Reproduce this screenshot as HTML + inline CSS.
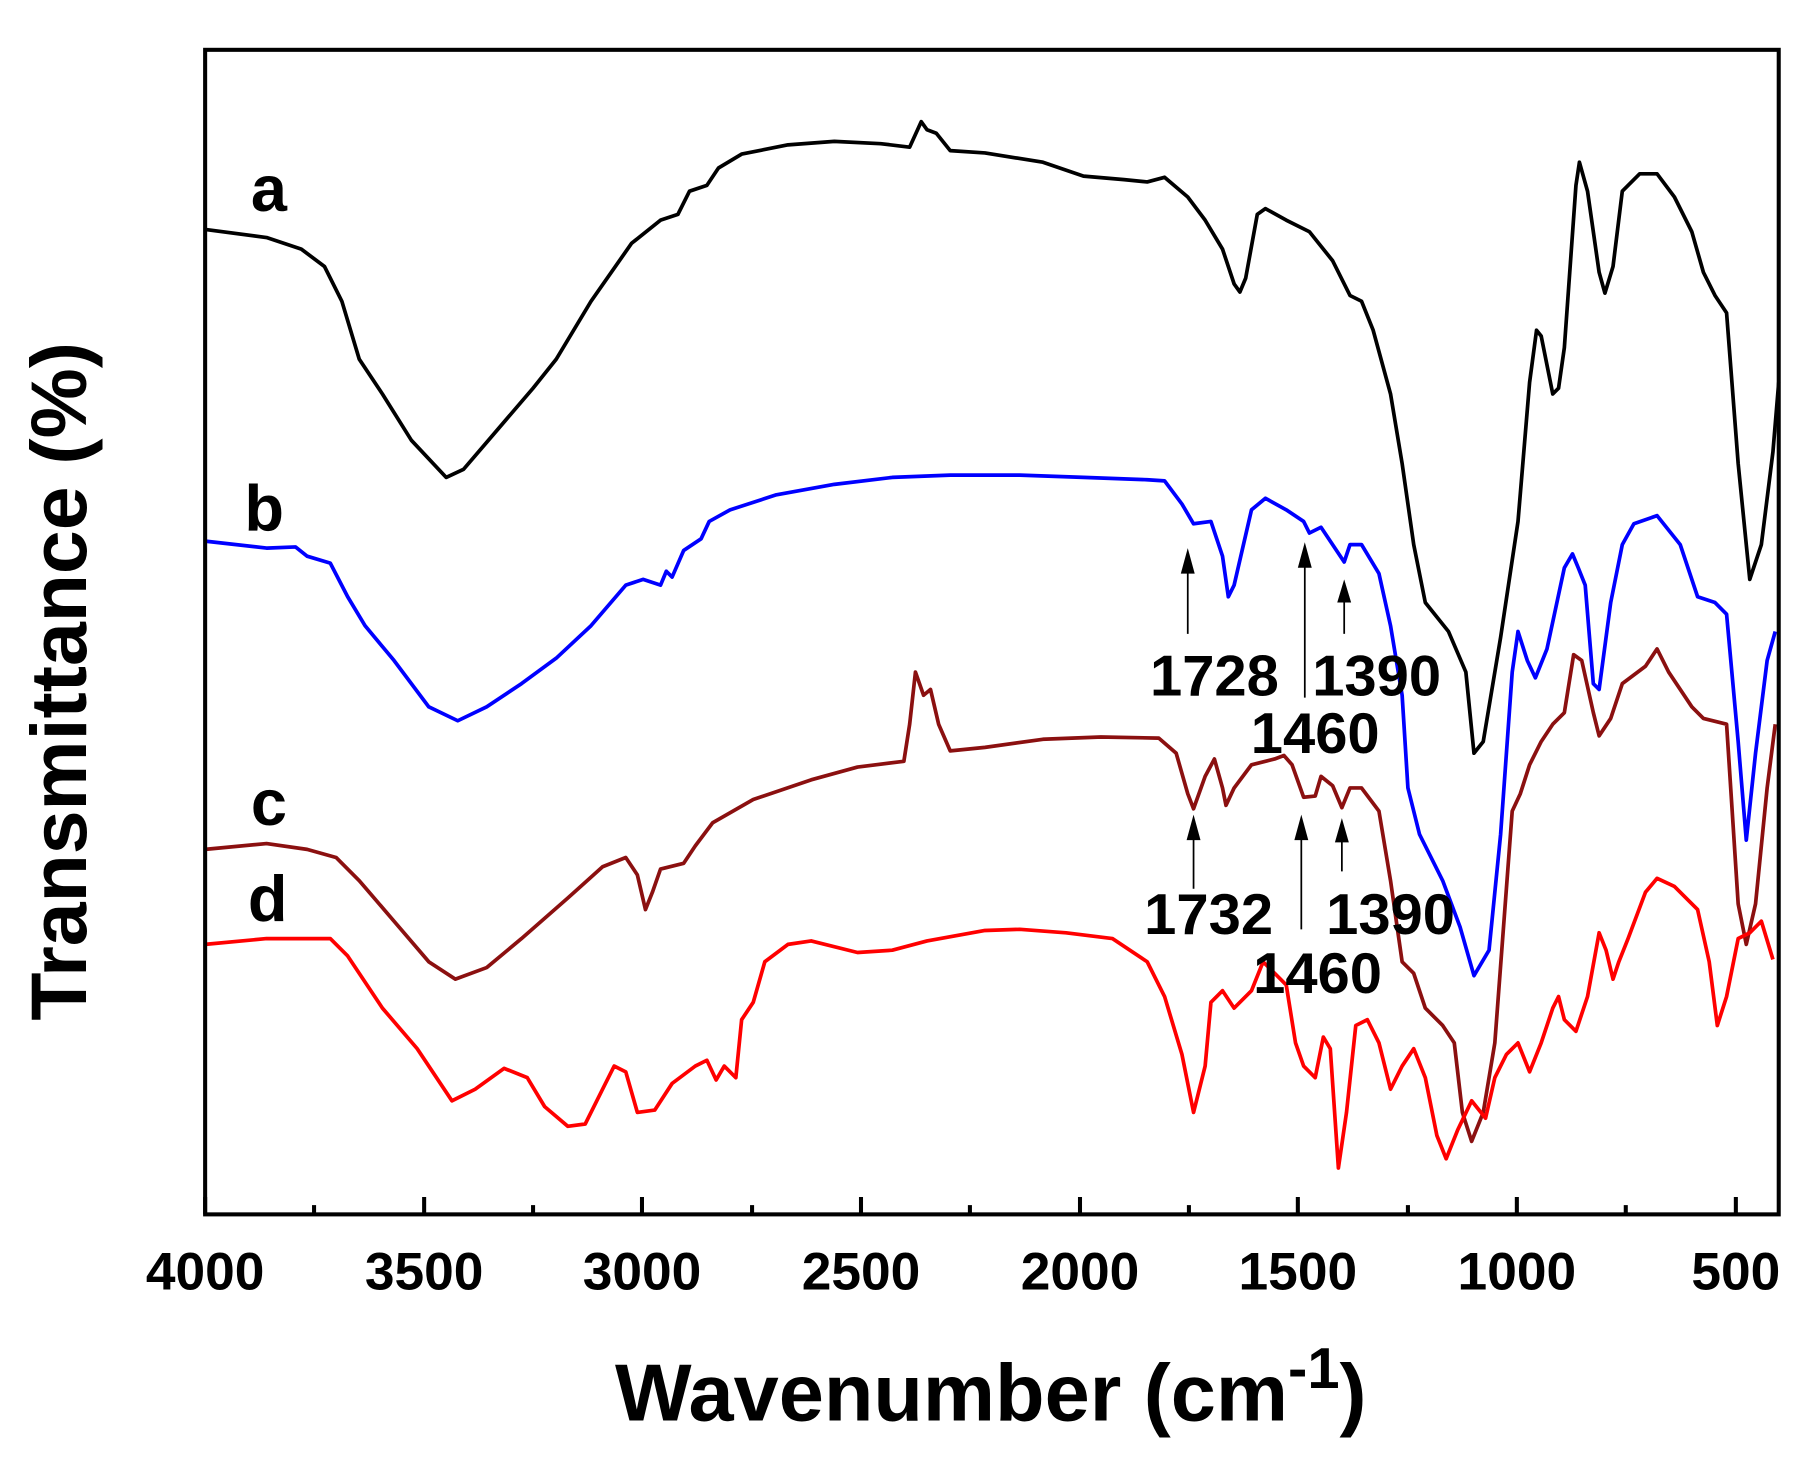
<!DOCTYPE html>
<html><head><style>html,body{margin:0;padding:0;background:#fff}svg{display:block}</style></head>
<body>
<svg width="1817" height="1462" viewBox="0 0 1568 1261.7" xmlns="http://www.w3.org/2000/svg" font-family="Liberation Sans, Arial, sans-serif" font-weight="bold">
<g fill="none" stroke-width="3.2" stroke-linejoin="round">
<polyline stroke="#000" points="177,198 230,205 260,215 280,230 295,260 310,310 330,340 355,380 385,412 400,405 430,370 460,335 480,310 510,260 545,210 570,190 585,185 595,165 610,160 620,145 640,133 680,125 720,122 760,124 785,127 795,105 800,112 808,115 820,130 850,132 900,140 935,152 970,155 990,157 1005,153 1025,170 1040,190 1055,215 1065,245 1070,252 1075,240 1085,185 1092,180 1110,190 1130,200 1150,225 1165,255 1175,260 1185,285 1200,340 1210,400 1220,470 1230,520 1250,545 1265,580 1272,650 1280,640 1295,550 1310,450 1320,330 1326,285 1330,290 1340,340 1345,335 1350,300 1360,160 1363,140 1370,165 1380,235 1385,253 1392,230 1400,165 1415,150 1430,150 1445,170 1460,200 1470,235 1480,255 1490,270 1500,400 1510,500 1520,470 1530,390 1535,330"/>
<polyline stroke="#0000ff" points="177,467 230,473 255,472 265,480 285,486 300,515 315,540 340,570 370,610 395,622 420,610 450,590 480,568 510,540 540,505 555,500 570,505 575,493 580,498 590,475 605,465 612,450 630,440 670,427 720,418 770,412 820,410 880,410 935,412 990,414 1005,415 1020,435 1030,452 1045,450 1055,480 1060,515 1065,505 1080,440 1092,430 1110,440 1125,450 1130,460 1140,455 1150,470 1160,485 1165,470 1175,470 1190,495 1200,540 1210,600 1215,680 1225,720 1245,760 1260,800 1272,842 1285,820 1295,720 1305,580 1310,545 1318,570 1325,585 1335,560 1350,490 1357,478 1362,490 1368,505 1375,590 1380,595 1390,520 1400,470 1410,452 1430,445 1450,470 1465,515 1480,520 1490,530 1500,640 1507,725 1515,650 1525,570 1532,545"/>
<polyline stroke="#8b1010" points="177,733 230,728 265,733 290,740 310,760 340,795 370,830 393,845 420,835 450,810 490,775 520,748 540,740 550,755 557,785 563,770 570,750 590,745 600,730 615,710 650,690 700,673 740,662 780,657 785,625 790,580 797,600 803,595 810,625 820,648 850,645 900,638 950,636 1000,637 1015,650 1025,685 1030,698 1040,670 1048,655 1055,680 1058,695 1065,680 1080,660 1100,655 1108,652 1115,660 1125,688 1135,687 1140,670 1150,678 1158,697 1165,680 1175,680 1190,700 1200,760 1210,830 1220,840 1230,870 1245,885 1255,900 1262,960 1270,985 1280,960 1290,900 1305,700 1312,685 1320,660 1330,640 1340,625 1350,615 1358,565 1365,570 1375,615 1380,635 1390,620 1400,590 1420,575 1430,560 1440,580 1460,610 1470,620 1490,625 1500,780 1507,815 1515,780 1525,680 1532,625"/>
<polyline stroke="#ff0000" points="177,815 230,810 285,810 300,825 330,870 360,905 390,950 410,940 435,922 455,930 470,955 490,972 505,970 520,940 530,920 540,925 550,960 565,958 580,935 600,920 610,915 618,932 625,920 635,930 640,880 650,865 660,830 680,815 700,812 740,822 770,820 800,812 850,803 880,802 920,805 960,810 990,830 1005,860 1020,910 1030,960 1040,920 1045,865 1055,855 1065,870 1080,855 1090,830 1100,840 1110,850 1118,900 1125,920 1135,930 1142,895 1148,905 1155,1008 1162,960 1170,885 1180,880 1190,900 1200,940 1210,920 1220,905 1230,930 1240,980 1248,1000 1258,975 1270,950 1282,965 1290,930 1300,910 1310,900 1320,925 1330,900 1340,870 1345,860 1350,880 1360,890 1370,860 1380,805 1386,820 1392,845 1397,830 1405,810 1420,770 1430,758 1445,765 1465,785 1475,830 1482,885 1490,860 1500,810 1510,805 1520,795 1530,828"/>
</g>
<g stroke="#000" stroke-width="1.5">
<line x1="1025" y1="547" x2="1025" y2="485"/><line x1="1126" y1="602" x2="1126" y2="480"/><line x1="1160" y1="547" x2="1160" y2="510"/>
<line x1="1030" y1="767" x2="1030" y2="715"/><line x1="1123" y1="802" x2="1123" y2="715"/><line x1="1158" y1="752" x2="1158" y2="717"/>
</g>
<g fill="#000">
<polygon points="1019,495 1025,473 1031,495"/><polygon points="1120,490 1126,468 1132,490"/><polygon points="1154,520 1160,500 1166,520"/>
<polygon points="1024,725 1030,703 1036,725"/><polygon points="1117,725 1123,703 1129,725"/><polygon points="1152,727 1158,706 1164,727"/>
</g>
<rect x="177" y="43" width="1358" height="1005" fill="none" stroke="#000" stroke-width="3.5"/>
<g stroke="#000" stroke-width="3.5">
<line x1="177" y1="1048" x2="177" y2="1033"/><line x1="271" y1="1048" x2="271" y2="1040"/><line x1="366" y1="1048" x2="366" y2="1033"/><line x1="460" y1="1048" x2="460" y2="1040"/><line x1="554" y1="1048" x2="554" y2="1033"/><line x1="649" y1="1048" x2="649" y2="1040"/><line x1="743" y1="1048" x2="743" y2="1033"/><line x1="837" y1="1048" x2="837" y2="1040"/><line x1="932" y1="1048" x2="932" y2="1033"/><line x1="1026" y1="1048" x2="1026" y2="1040"/><line x1="1120" y1="1048" x2="1120" y2="1033"/><line x1="1215" y1="1048" x2="1215" y2="1040"/><line x1="1309" y1="1048" x2="1309" y2="1033"/><line x1="1403" y1="1048" x2="1403" y2="1040"/><line x1="1498" y1="1048" x2="1498" y2="1033"/>
</g>
<g font-size="46" text-anchor="middle">
<text x="177" y="1113">4000</text><text x="366" y="1113">3500</text><text x="554" y="1113">3000</text><text x="743" y="1113">2500</text><text x="932" y="1113">2000</text><text x="1120" y="1113">1500</text><text x="1309" y="1113">1000</text><text x="1498" y="1113">500</text>
</g>
<g font-size="50" text-anchor="middle">
<text x="1048" y="600">1728</text><text x="1188" y="600">1390</text><text x="1135" y="650">1460</text>
<text x="1043" y="806">1732</text><text x="1200" y="806">1390</text><text x="1137" y="857">1460</text>
</g>
<g font-size="56" text-anchor="middle">
<text x="232" y="182">a</text><text x="228" y="458">b</text><text x="232" y="712">c</text><text x="231" y="795">d</text>
</g>
<text x="855" y="1226" font-size="70" text-anchor="middle">Wavenumber (cm<tspan dy="-28" font-size="50">-1</tspan><tspan dy="28">)</tspan></text>
<text transform="translate(74,588) rotate(-90)" font-size="68" text-anchor="middle">Transmittance (%)</text>
</svg>
</body></html>
